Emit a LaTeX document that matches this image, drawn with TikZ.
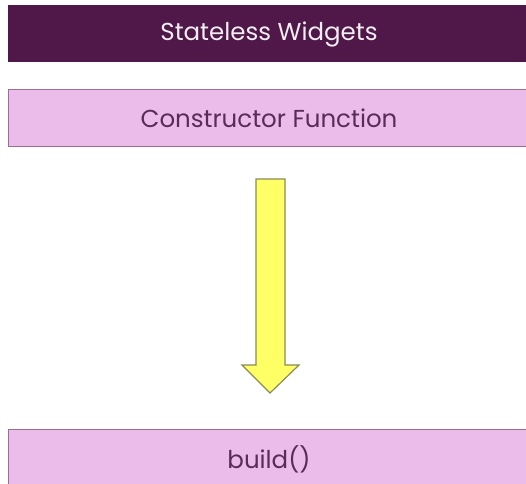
\documentclass[tikz,border=0pt]{standalone}
\usepackage{fontspec}
\setmainfont{Poppins}
\definecolor{darkplum}{HTML}{4F1849}
\definecolor{lightorchid}{HTML}{EBBCEA}
\definecolor{orchidedge}{HTML}{9B6E98}
\definecolor{plumtext}{HTML}{5A2A58}
\definecolor{arrowfill}{HTML}{FFFF66}
\definecolor{arrowedge}{HTML}{8C8A55}
\tikzset{
  titlebar/.style={fill=darkplum, draw=none},
  lightbar/.style={fill=lightorchid, draw=orchidedge, line width=1pt},
  bartext/.style={font=\fontsize{24.5}{28}\selectfont}
}
\begin{document}
\begin{tikzpicture}[x=1pt,y=1pt]
  \useasboundingbox (0,0) rectangle (526,-483);
  % header bar
  \path[titlebar] (8,-5) rectangle (540,-62);
  \node[bartext, text=white!92!darkplum] (title) at (269,-34) {Stateless Widgets};
  % constructor bar
  \draw[lightbar] (8,-89) rectangle (540,-146);
  \node[bartext, text=plumtext] (ctor) at (269,-118) {Constructor Function};
  % build bar
  \draw[lightbar] (8,-429) rectangle (540,-500);
  \node[bartext, text=plumtext] (build) at (269,-459) {build()};
  % downward block arrow
  \coordinate (atop) at (270,-179);
  \coordinate (atip) at (270,-393);
  \draw[fill=arrowfill, draw=arrowedge, line width=1.2pt, line join=miter]
    (256,-179) -- (285,-179) -- (285,-365) -- (299,-365) -- (atip)
    -- (242,-365) -- (256,-365) -- cycle;
\end{tikzpicture}
\end{document}
